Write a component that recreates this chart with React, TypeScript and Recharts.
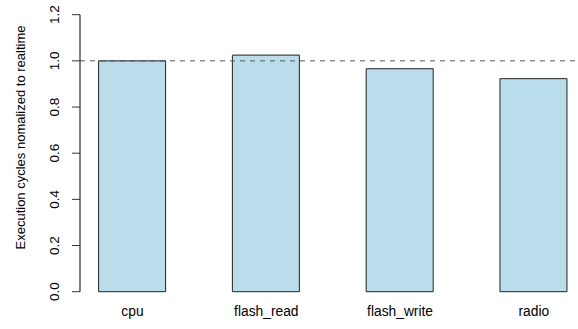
import React from 'react';
import { BarChart, Bar, XAxis, YAxis, ReferenceLine } from 'recharts';

// Benchmarks and their execution cycles, normalised to realtime
const BENCHMARKS = ['cpu', 'flash_read', 'flash_write', 'radio'];
const CYCLES = [1.0, 1.025, 0.966, 0.923];
const Y_TICKS = [0, 0.2, 0.4, 0.6, 0.8, 1.0, 1.2];

const data = BENCHMARKS.map((name, i) => ({ name, cycles: CYCLES[i] }));

const FONT = '"Liberation Sans", Arial, Helvetica, sans-serif';

// y tick labels drawn parallel to the axis, like R's las=0
const YTick = (props: any) => {
  const { y, payload } = props;
  return (
    <text
      transform={`translate(58.5, ${y}) rotate(-90)`}
      textAnchor="middle"
      fontSize={13.5}
      fontFamily={FONT}
      fill="#000"
    >
      {Number(payload.value).toFixed(1)}
    </text>
  );
};

const XTick = (props: any) => {
  const { x, payload } = props;
  return (
    <text x={x} y={315.5} textAnchor="middle" fontSize={13.8} fontFamily={FONT} fill="#000">
      {payload.value}
    </text>
  );
};

export default function App() {
  return (
    <div style={{ position: 'absolute', left: 0, top: 0, background: '#fff' }}>
      <BarChart
        width={578}
        height={329}
        data={data}
        margin={{ top: 14.7, right: 0, bottom: 0, left: 0 }}
        barCategoryGap={0}
      >
        <XAxis
          dataKey="name"
          axisLine={false}
          tickLine={false}
          tick={<XTick />}
          height={37.3}
          padding={{ left: -14.4, right: -22.75 }}
          interval={0}
        />
        <YAxis
          domain={[0, 1.2]}
          ticks={Y_TICKS}
          width={80}
          axisLine={{ stroke: '#000', strokeWidth: 1 }}
          tickLine={{ stroke: '#333', strokeWidth: 1 }}
          tickSize={8}
          tick={<YTick />}
          interval={0}
          label={{
            content: () => (
              <text
                transform="translate(25, 137.5) rotate(-90)"
                textAnchor="middle"
                fontSize={13}
                fontFamily={FONT}
                fill="#000"
              >
                Execution cycles nomalized to realtime
              </text>
            ),
          }}
        />
        <Bar
          dataKey="cycles"
          fill="#b9ddea"
          stroke="#222"
          strokeWidth={1}
          barSize={67}
          isAnimationActive={false}
        />
        <ReferenceLine y={1} stroke="#555" strokeDasharray="5 5" strokeWidth={1} />
      </BarChart>
    </div>
  );
}
